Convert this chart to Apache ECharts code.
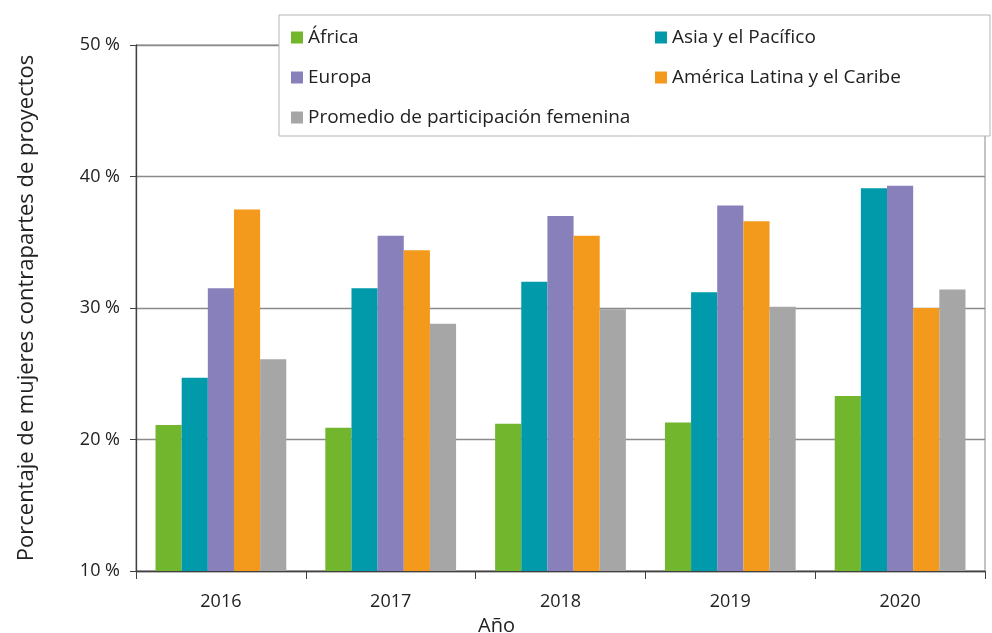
<!doctype html>
<html>
	<head>
		<meta charset="UTF-8">
		<title></title>
		<script src="https://cdn.jsdelivr.net/npm/echarts@6/dist/echarts.min.js"></script>
		<style>
			html, body { margin: 0; padding: 0; background: #fff; }
			#chart { width: 992px; height: 633px; }
		</style>
	</head>

	<body>
		<div id="chart"></div>
		<script type="text/javascript">
			var years = ['2016', '2017', '2018', '2019', '2020'];
			var africa = [21.1, 20.9, 21.2, 21.3, 23.3];
			var asia = [24.7, 31.5, 32.0, 31.2, 39.1];
			var europa = [31.5, 35.5, 37.0, 37.8, 39.3];
			var latam = [37.5, 34.4, 35.5, 36.6, 30.0];
			var promedio = [26.1, 28.8, 29.9, 30.1, 31.4];

			var font = 'Open Sans';
			var myChart = echarts.init(document.getElementById('chart'));

			function bar(name, data, color) {
				return {
					name: name,
					type: 'bar',
					data: data,
					barGap: '0%',
					barCategoryGap: '23%',
					itemStyle: { color: color },
					emphasis: { disabled: true }
				};
			}

			var legendText = { fontFamily: font, fontSize: 19, color: '#222' };

			var option = {
				animation: false,
				textStyle: { fontFamily: font },
				grid: {
					left: 136, right: 7, top: 45, bottom: 62,
					outerBoundsMode: 'none',
					containLabel: false,
					show: true, borderColor: '#8a8a8a', borderWidth: 1
				},
				graphic: [{
					type: 'rect',
					z: 5,
					shape: { x: 279, y: 15, width: 711, height: 121 },
					style: { fill: '#fff', stroke: '#b5b5b5', lineWidth: 1 }
				}],
				legend: [{
					z: 10,
					orient: 'vertical',
					left: 286, top: 23,
					itemWidth: 12, itemHeight: 12, itemGap: 21,
					icon: 'rect',
					textStyle: legendText,
					data: ['África', 'Europa', 'Promedio de participación femenina']
				}, {
					z: 10,
					orient: 'vertical',
					left: 650, top: 23,
					itemWidth: 12, itemHeight: 12, itemGap: 21,
					icon: 'rect',
					textStyle: legendText,
					data: ['Asia y el Pacífico', 'América Latina y el Caribe']
				}],
				xAxis: {
					type: 'category',
					data: years,
					name: 'Año',
					nameLocation: 'middle',
					nameGap: 33,
					nameTextStyle: { fontFamily: font, fontSize: 20, color: '#222', padding: [0, 128, 0, 0] },
					axisLine: { lineStyle: { color: '#404040', width: 1.3 } },
					axisTick: { show: true, length: 8, lineStyle: { color: '#404040' } },
					axisLabel: { fontFamily: font, fontSize: 18, color: '#222', margin: 22 }
				},
				yAxis: {
					type: 'value',
					min: 10, max: 50, interval: 10,
					name: 'Porcentaje de mujeres contrapartes de proyectos',
					nameLocation: 'middle',
					nameGap: 98,
					nameTextStyle: { fontFamily: font, fontSize: 22, color: '#222' },
					axisLine: { show: true, lineStyle: { color: '#404040', width: 1.3 } },
					axisTick: { show: true, length: 6, lineStyle: { color: '#404040' } },
					axisLabel: { fontFamily: font, fontSize: 18, color: '#222', margin: 16, formatter: '{value} %' },
					splitLine: { lineStyle: { color: '#8a8a8a', width: 1.3 } }
				},
				series: [
					bar('África', africa, '#72b62e'),
					bar('Asia y el Pacífico', asia, '#009aab'),
					bar('Europa', europa, '#8780ba'),
					bar('América Latina y el Caribe', latam, '#f39a1d'),
					bar('Promedio de participación femenina', promedio, '#a6a6a6')
				]
			};
			myChart.setOption(option);
		</script>
	</body>
</html>
